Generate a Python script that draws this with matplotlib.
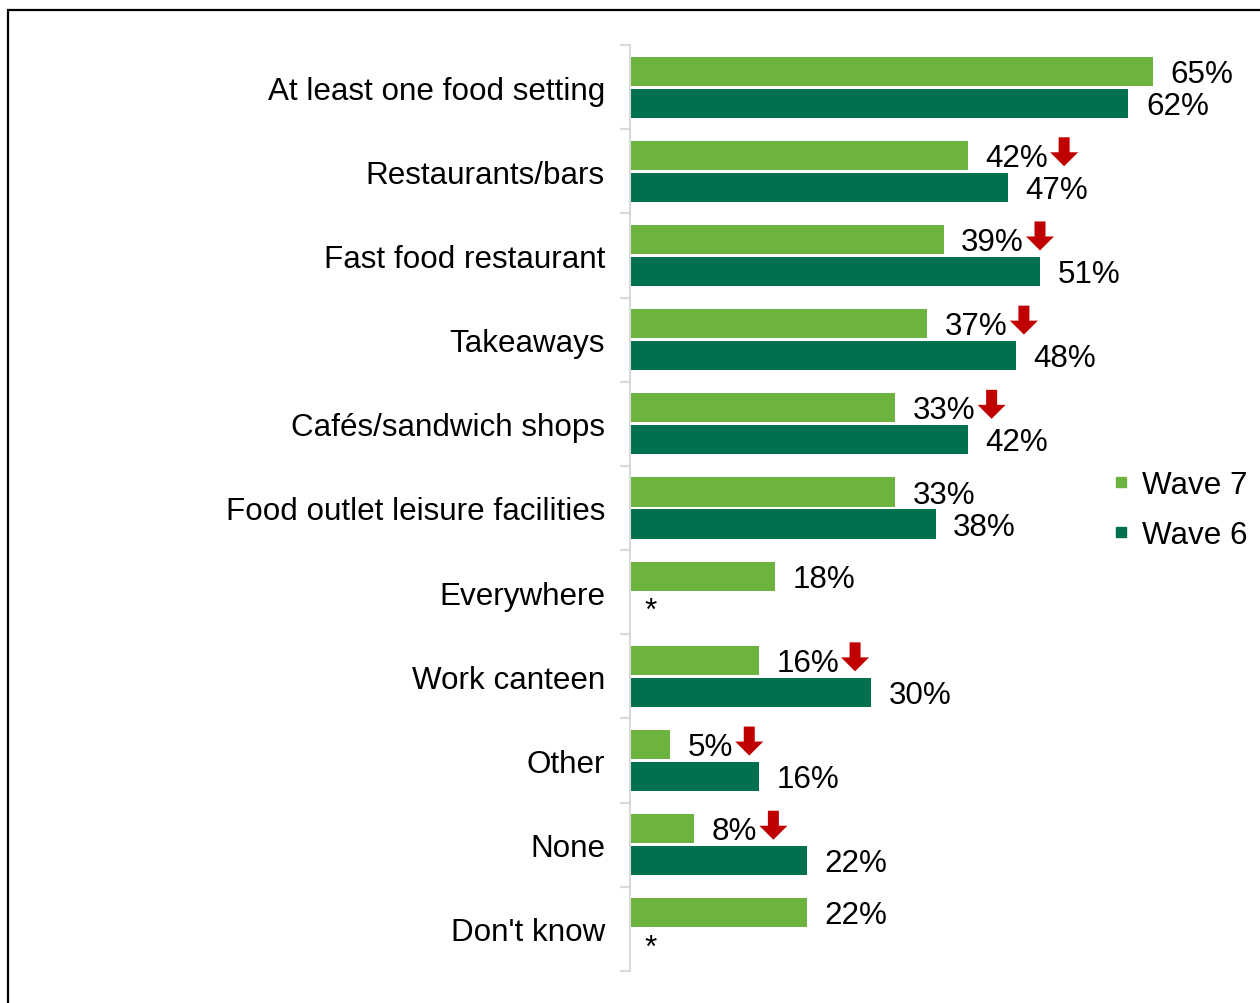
import matplotlib
matplotlib.use("Agg")
import matplotlib.pyplot as plt
from matplotlib.patches import Rectangle, Polygon
from matplotlib.lines import Line2D
import numpy as np

plt.rcParams['font.family'] = ['Liberation Sans', 'DejaVu Sans']

categories = [
    "At least one food setting",
    "Restaurants/bars",
    "Fast food restaurant",
    "Takeaways",
    "Cafés/sandwich shops",
    "Food outlet leisure facilities",
    "Everywhere",
    "Work canteen",
    "Other",
    "None",
    "Don't know",
]
wave7 = [65, 42, 39, 37, 33, 33, 18, 16, 5, 8, 22]
wave6 = [62, 47, 51, 48, 42, 38, None, 30, 16, 22, None]
# Wave 7 significantly lower than Wave 6
sig_down = [False, True, True, True, True, False, False, True, True, True, False]

series_names = ["Wave 7", "Wave 6"]
col_w7 = "#6DB33F"
col_w6 = "#00704F"

W, H = 1260, 1004
fig = plt.figure(figsize=(W / 100, H / 100), dpi=100)
ax = fig.add_axes([630 / W, 32 / H, 630 / W, 926 / H])

n = len(categories)
y = np.arange(n)
bar_h = 0.345
off = 0.19
fs = 22.6

px_per_unit = 8.04
ax.set_xlim(0, 630 / px_per_unit)
ax.set_ylim(n - 0.5, -0.5)

ax.barh(y - off, wave7, height=bar_h, color=col_w7, label=series_names[0])
ax.barh([yy + off for yy, v in zip(y, wave6) if v is not None],
        [v for v in wave6 if v is not None], height=bar_h, color=col_w6,
        label=series_names[1])

# value labels
dy = 0.03
w7_texts = []
for yy, v in zip(y, wave7):
    t = ax.text(v + 2.2, yy - off + dy, f"{v}%", va="center", ha="left",
                fontsize=fs)
    w7_texts.append(t)
for yy, v in zip(y, wave6):
    if v is None:
        ax.text(2.5, yy + off + 0.03, "*", va="center", ha="center",
                fontsize=fs)
    else:
        ax.text(v + 2.2, yy + off + dy, f"{v}%", va="center", ha="left",
                fontsize=fs)

# axes styling
for s in ["top", "right", "bottom"]:
    ax.spines[s].set_visible(False)
ax.spines["left"].set_color("#D9D9D9")
ax.spines["left"].set_linewidth(1.5)
ax.set_xticks([])
ax.set_yticks(y)
ax.set_yticklabels(categories, fontsize=fs)
ax.tick_params(axis="y", which="major", length=0, pad=18)
ax.set_yticks(np.arange(n + 1) - 0.5, minor=True)
ax.tick_params(axis="y", which="minor", length=7, width=1.5, color="#D9D9D9")

# legend
handles = [Line2D([], [], marker="s", linestyle="none", markersize=7.5,
                  color=c) for c in (col_w7, col_w6)]
fig.legend(handles, series_names, loc="center left",
           bbox_to_anchor=(1112 / W, 1 - 511 / H), frameon=False,
           fontsize=fs, handlelength=0.6, handletextpad=0.35,
           labelspacing=0.62, borderpad=0, borderaxespad=0)

# outer frame
fig.patches.append(Rectangle((8 / W, -0.1), 1.2, (H - 11) / H + 0.1,
                             transform=fig.transFigure, fill=False,
                             edgecolor="black", linewidth=1.6))

# red down-arrows after significant Wave 7 labels
fig.canvas.draw()
renderer = fig.canvas.get_renderer()
inv = fig.transFigure.inverted()
for t, yy, flag in zip(w7_texts, y, sig_down):
    if not flag:
        continue
    bb = t.get_window_extent(renderer)
    cy = ax.transData.transform((0, yy - off))[1] + 4
    x0 = bb.x1 + 2
    aw, sw = 28, 11
    top, neck, tip = cy + 14, cy - 1, cy - 15
    xc = x0 + aw / 2
    pts = [(xc - sw / 2, top), (xc + sw / 2, top), (xc + sw / 2, neck),
           (x0 + aw, neck), (xc, tip), (x0, neck), (xc - sw / 2, neck)]
    pts = inv.transform(pts)
    fig.patches.append(Polygon(pts, closed=True, transform=fig.transFigure,
                               facecolor="#C00000", edgecolor="none"))

fig.savefig("out.png", dpi=100)
